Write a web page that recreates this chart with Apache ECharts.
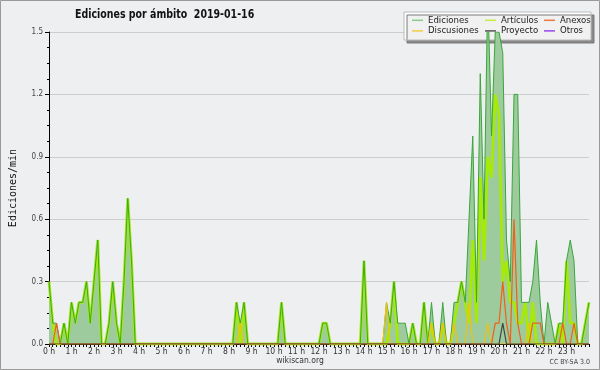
<!DOCTYPE html>
<html><head><meta charset="utf-8">
<script src="https://cdn.jsdelivr.net/npm/echarts@6/dist/echarts.min.js"></script>
<style>html,body{margin:0;padding:0;background:#eeeff1}#c{width:600px;height:370px}</style>
</head><body><div id="c"></div>
<script>
// 10-minute buckets from 0:00 to 24:00 (values in edits/min)
const ediciones = [
 0.3,0.1,0.1,0,0.1,0,0.2,0.1,0.2,0.2,
 0.3,0.1,0.3,0.5,0,0,0.1,0.3,0.1,0,
 0.3,0.7,0.4,0,0,0,0,0,0,0,
 0,0,0,0,0,0,0,0,0,0,
 0,0,0,0,0,0,0,0,0,0,
 0.2,0.1,0.2,0,0,0,0,0,0,0,
 0,0,0.2,0,0,0,0,0,0,0,
 0,0,0,0.1,0.1,0,0,0,0,0,
 0,0,0,0,0.4,0,0,0,0,0,
 0.2,0.1,0.3,0.1,0.1,0.1,0,0.1,0,0,
 0.2,0,0.2,0,0,0.2,0,0,0.2,0.2,
 0.3,0.2,0.6,1.0,0.2,1.3,0.6,1.7,1.0,1.5,
 1.5,1.4,0.5,0.3,1.2,1.2,0.2,0.2,0.2,0.3,
 0.5,0.2,0,0.2,0.1,0,0.1,0.1,0.4,0.5,
 0.4,0,0,0.1,0.2];
const articulos = [
 0.3,0.1,0,0,0.1,0,0.2,0.1,0.2,0.2,
 0.3,0.1,0.3,0.5,0,0,0.1,0.3,0.1,0,
 0.3,0.7,0.4,0,0,0,0,0,0,0,
 0,0,0,0,0,0,0,0,0,0,
 0,0,0,0,0,0,0,0,0,0,
 0.2,0,0.2,0,0,0,0,0,0,0,
 0,0,0.2,0,0,0,0,0,0,0,
 0,0,0,0.1,0.1,0,0,0,0,0,
 0,0,0,0,0.4,0,0,0,0,0,
 0,0.1,0.3,0,0,0,0,0.1,0,0,
 0.2,0,0.1,0,0,0.1,0,0,0.1,0.2,
 0.3,0.2,0.1,0.5,0.1,0.8,0.4,0.9,0.8,1.2,
 1.1,0.3,0.4,0.2,0.2,0.1,0.1,0.2,0,0.2,
 0,0,0,0,0,0,0.1,0,0.4,0.1,
 0.1,0,0,0.1,0.2];
const discusiones = [
 0,0,0,0,0,0,0,0,0,0,
 0,0,0,0,0,0,0,0,0,0,
 0,0,0,0,0,0,0,0,0,0,
 0,0,0,0,0,0,0,0,0,0,
 0,0,0,0,0,0,0,0,0,0,
 0,0.1,0,0,0,0,0,0,0,0,
 0,0,0,0,0,0,0,0,0,0,
 0,0,0,0,0,0,0,0,0,0,
 0,0,0,0,0,0,0,0,0,0,
 0.2,0,0,0,0,0,0,0,0,0,
 0,0,0.1,0,0,0.1,0,0,0.1,0,
 0,0,0.2,0,0,0,0,0.1,0,0,
 0,0,0,0,0,0,0,0,0.1,0,
 0,0,0,0,0,0,0,0,0,0,
 0,0,0,0,0];
const anexos = [
 0,0,0.1,0,0,0,0,0,0,0,
 0,0,0,0,0,0,0,0,0,0,
 0,0,0,0,0,0,0,0,0,0,
 0,0,0,0,0,0,0,0,0,0,
 0,0,0,0,0,0,0,0,0,0,
 0,0,0,0,0,0,0,0,0,0,
 0,0,0,0,0,0,0,0,0,0,
 0,0,0,0,0,0,0,0,0,0,
 0,0,0,0,0,0,0,0,0,0,
 0,0,0,0,0,0,0,0,0,0,
 0,0,0,0,0,0,0,0,0,0,
 0,0,0,0,0,0,0,0,0,0.1,
 0.1,0.3,0.1,0,0.6,0.1,0,0,0,0.1,
 0.1,0.1,0,0,0,0,0,0.1,0,0,
 0.1,0,0,0,0];
const proyecto = [
 0,0,0,0,0,0,0,0,0,0,
 0,0,0,0,0,0,0,0,0,0,
 0,0,0,0,0,0,0,0,0,0,
 0,0,0,0,0,0,0,0,0,0,
 0,0,0,0,0,0,0,0,0,0,
 0,0,0,0,0,0,0,0,0,0,
 0,0,0,0,0,0,0,0,0,0,
 0,0,0,0,0,0,0,0,0,0,
 0,0,0,0,0,0,0,0,0,0,
 0,0,0,0,0,0,0,0,0,0,
 0,0,0,0,0,0,0,0,0,0,
 0,0,0,0,0,0,0,0,0,0,
 0,0.1,0,0,0,0,0,0,0,0,
 0,0,0,0,0,0,0,0,0,0,
 0,0,0,0,0];
const otros = [];
const yTicks = [0, 0.3, 0.6, 0.9, 1.2, 1.5];

const minutes = ediciones.map((_, i) => i * 10);
const pair = arr => arr.map((v, i) => [minutes[i], v]);

const SANS = '"DejaVu Sans Condensed","DejaVu Sans",sans-serif';
const legendText = {fontFamily: SANS, fontSize: 9.5, color: '#222', lineHeight: 10.6};
const chart = echarts.init(document.getElementById('c'), null, {renderer: 'canvas'});
chart.setOption({
  animation: false,
  backgroundColor: '#eeeff1',
  grid: {left: 45, right: 11, top: 32, bottom: 26},
  xAxis: {
    type: 'value', min: 0, max: 1440, interval: 60,
    axisLine: {lineStyle: {color: '#000', width: 1}},
    axisTick: {length: 3, lineStyle: {color: '#000'}},
    minorTick: {show: true, splitNumber: 6, length: 3, lineStyle: {color: '#000'}},
    splitLine: {show: false},
    axisLabel: {
      formatter: v => v < 1440 ? (v / 60) + ' h' : '',
      fontFamily: SANS, fontSize: 8.5, color: '#333', margin: 3, showMaxLabel: false
    }
  },
  yAxis: {
    type: 'value', min: yTicks[0], max: yTicks[yTicks.length - 1], interval: 0.3,
    name: 'Ediciones/min', nameLocation: 'middle', nameGap: 31, nameRotate: 90,
    nameTextStyle: {fontFamily: '"DejaVu Sans Mono",monospace', fontSize: 10, color: '#111'},
    axisLine: {show: true, lineStyle: {color: '#000', width: 1}},
    axisTick: {show: true, length: 4, lineStyle: {color: '#000'}},
    minorTick: {show: true, splitNumber: 4, length: 2, lineStyle: {color: '#000'}},
    splitLine: {lineStyle: {color: '#cdcdcd', width: 1}},
    axisLabel: {formatter: v => v.toFixed(1), fontFamily: SANS, fontSize: 8, color: '#444', margin: 6}
  },
  legend: [
    {data: [{name: 'Ediciones', itemStyle: {color: '#88cc88'}}, {name: 'Discusiones', itemStyle: {color: '#f5cc44'}}],
     left: 407, top: 10, orient: 'vertical', icon: 'rect', itemWidth: 11, itemHeight: 1.5, itemGap: 0,
     textStyle: legendText, selectedMode: false},
    {data: [{name: 'Artículos', itemStyle: {color: '#c8ee44'}}, {name: 'Proyecto', itemStyle: {color: '#555555'}}],
     left: 480, top: 10, orient: 'vertical', icon: 'rect', itemWidth: 11, itemHeight: 1.5, itemGap: 0,
     textStyle: legendText, selectedMode: false},
    {data: [{name: 'Anexos', itemStyle: {color: '#ee7744'}}, {name: 'Otros', itemStyle: {color: '#9944ee'}}],
     left: 539, top: 10, orient: 'vertical', icon: 'rect', itemWidth: 11, itemHeight: 1.5, itemGap: 0,
     textStyle: legendText, selectedMode: false}
  ],
  graphic: [
    {type: 'rect', z: 3, shape: {x: 404, y: 12, width: 187, height: 28},
     style: {fill: 'rgba(255,255,255,0.88)', stroke: '#bbbbbb', lineWidth: 1,
             shadowColor: '#7a7a7a', shadowOffsetX: 3, shadowOffsetY: 3, shadowBlur: 0}},
    {type: 'text', z: 3, x: 75, y: 15, scaleX: 0.84,
     style: {text: 'Ediciones por ámbito  2019-01-16', font: 'bold 12.5px ' + SANS, fill: '#111', verticalAlign: 'middle'}},
    {type: 'text', z: 3, x: 300, y: 361,
     style: {text: 'wikiscan.org', font: '8.5px ' + SANS, fill: '#333', align: 'center', verticalAlign: 'middle'}},
    {type: 'text', z: 3, x: 590, y: 362.5,
     style: {text: 'CC BY-SA 3.0', font: '7px ' + SANS, fill: '#444', align: 'right', verticalAlign: 'middle'}},
    {type: 'rect', z: 3, shape: {x: 0.5, y: 0.5, width: 599, height: 369},
     style: {fill: 'none', stroke: '#9a9a9a', lineWidth: 1}}
  ],
  series: [
    {name: 'Ediciones', type: 'line', data: pair(ediciones), showSymbol: false, color: '#88cc88',
     lineStyle: {width: 0}, areaStyle: {color: '#9dcb9d', opacity: 1}},
    {name: 'Artículos', type: 'line', data: pair(articulos), showSymbol: false, color: '#c8ee44',
     lineStyle: {width: 2.8, color: '#a6ea08'}},
    {name: 'Ediciones', type: 'line', data: pair(ediciones), showSymbol: false, color: '#88cc88',
     lineStyle: {width: 1, color: '#3aa63a'}},
    {name: 'Discusiones', type: 'line', data: pair(discusiones), showSymbol: false, color: '#f5cc44',
     lineStyle: {width: 1.2, color: '#f2c010'}},
    {name: 'Anexos', type: 'line', data: pair(anexos), showSymbol: false, color: '#ee7744',
     lineStyle: {width: 1.2, color: '#f06018'}},
    {name: 'Proyecto', type: 'line', data: pair(proyecto), showSymbol: false, color: '#555555',
     lineStyle: {width: 1.2, color: '#444444'}},
    {name: 'Otros', type: 'line', data: otros, showSymbol: false, color: '#9944ee',
     lineStyle: {width: 1.2, color: '#9933ee'}}
  ]
});
</script></body></html>
